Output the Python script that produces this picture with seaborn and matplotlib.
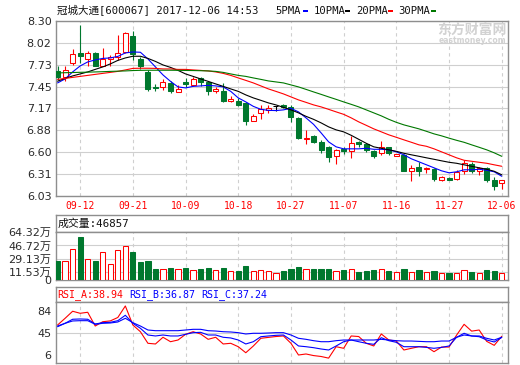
import numpy as np
import pandas as pd
import matplotlib
matplotlib.use("Agg")
import matplotlib.pyplot as plt
from matplotlib.patches import Rectangle
import seaborn as sns

# ---------------- data ----------------
dates = ['09-07', '09-08', '09-11', '09-12', '09-13', '09-14', '09-15', '09-18', '09-19', '09-20',
         '09-21', '09-22', '09-25', '09-26', '09-27', '09-28', '09-29', '10-09', '10-10', '10-11',
         '10-12', '10-13', '10-16', '10-17', '10-18', '10-19', '10-20', '10-23', '10-24', '10-25',
         '10-26', '10-27', '10-30', '10-31', '11-01', '11-02', '11-03', '11-06', '11-07', '11-08',
         '11-09', '11-10', '11-13', '11-14', '11-15', '11-16', '11-17', '11-20', '11-21', '11-22',
         '11-23', '11-24', '11-27', '11-28', '11-29', '11-30', '12-01', '12-04', '12-05', '12-06']

opens = [7.650, 7.572, 7.754, 7.881, 7.810, 7.881, 7.719, 7.810, 7.832, 7.894,
         8.109, 7.803, 7.634, 7.440, 7.446, 7.498, 7.377, 7.515, 7.472, 7.559,
         7.507, 7.398, 7.398, 7.264, 7.264, 7.234, 7.008, 7.104, 7.147, 7.203,
         7.212, 7.190, 7.047, 6.766, 6.809, 6.727, 6.662, 6.553, 6.636, 6.618,
         6.735, 6.705, 6.618, 6.584, 6.662, 6.549, 6.562, 6.358, 6.402, 6.380,
         6.376, 6.228, 6.263, 6.246, 6.345, 6.445, 6.354, 6.393, 6.237, 6.194]
highs = [7.715, 7.720, 7.936, 8.252, 7.918, 7.897, 7.953, 7.866, 8.122, 8.161,
         8.178, 7.829, 7.667, 7.490, 7.550, 7.524, 7.472, 7.559, 7.580, 7.580,
         7.515, 7.450, 7.494, 7.329, 7.300, 7.255, 7.095, 7.212, 7.212, 7.203,
         7.218, 7.212, 7.056, 6.887, 6.815, 6.757, 6.672, 6.636, 6.662, 6.809,
         6.748, 6.722, 6.627, 6.744, 6.670, 6.575, 6.575, 6.432, 6.475, 6.410,
         6.389, 6.289, 6.270, 6.367, 6.497, 6.471, 6.410, 6.410, 6.272, 6.237]
lows = [7.540, 7.520, 7.736, 7.758, 7.712, 7.712, 7.712, 7.723, 7.800, 7.888,
        7.797, 7.680, 7.394, 7.387, 7.407, 7.364, 7.374, 7.450, 7.459, 7.463,
        7.342, 7.372, 7.255, 7.247, 7.199, 6.952, 7.008, 7.030, 7.104, 7.138,
        7.173, 6.995, 6.770, 6.701, 6.718, 6.590, 6.475, 6.445, 6.575, 6.519,
        6.670, 6.605, 6.519, 6.562, 6.562, 6.549, 6.354, 6.215, 6.289, 6.324,
        6.224, 6.215, 6.233, 6.237, 6.315, 6.328, 6.302, 6.211, 6.107, 6.120]
closes = [7.576, 7.663, 7.871, 7.842, 7.892, 7.723, 7.810, 7.836, 7.888, 8.154,
          7.875, 7.719, 7.420, 7.430, 7.511, 7.387, 7.416, 7.481, 7.546, 7.507,
          7.398, 7.416, 7.268, 7.286, 7.212, 7.008, 7.069, 7.160, 7.169, 7.203,
          7.182, 7.060, 6.779, 6.779, 6.727, 6.627, 6.540, 6.627, 6.618, 6.714,
          6.705, 6.627, 6.553, 6.662, 6.584, 6.571, 6.358, 6.389, 6.358, 6.397,
          6.246, 6.272, 6.237, 6.341, 6.462, 6.354, 6.393, 6.233, 6.150, 6.228]

ma5 = [7.498, 7.550, 7.641, 7.719, 7.771, 7.797, 7.817, 7.823, 7.843, 7.888,
       7.901, 7.897, 7.810, 7.706, 7.602, 7.518, 7.446, 7.433, 7.453, 7.459,
       7.466, 7.459, 7.446, 7.388, 7.303, 7.251, 7.193, 7.154, 7.141, 7.138,
       7.147, 7.167, 7.121, 7.043, 6.959, 6.848, 6.731, 6.666, 6.640, 6.640,
       6.640, 6.647, 6.634, 6.634, 6.627, 6.601, 6.562, 6.510, 6.471, 6.432,
       6.393, 6.354, 6.328, 6.341, 6.367, 6.367, 6.374, 6.361, 6.341, 6.283]
ma10 = [7.520, 7.557, 7.589, 7.615, 7.641, 7.674, 7.706, 7.745, 7.791, 7.823,
        7.845, 7.845, 7.817, 7.778, 7.732, 7.700, 7.661, 7.615, 7.583, 7.550,
        7.518, 7.485, 7.453, 7.420, 7.388, 7.342, 7.303, 7.271, 7.238, 7.212,
        7.180, 7.147, 7.108, 7.063, 7.024, 6.978, 6.926, 6.887, 6.861, 6.816,
        6.764, 6.712, 6.666, 6.647, 6.627, 6.608, 6.582, 6.562, 6.543, 6.523,
        6.504, 6.484, 6.465, 6.452, 6.432, 6.413, 6.393, 6.374, 6.348, 6.302]
ma20 = [7.544, 7.557, 7.570, 7.583, 7.596, 7.609, 7.622, 7.635, 7.648, 7.667,
        7.687, 7.689, 7.689, 7.687, 7.680, 7.680, 7.674, 7.674, 7.667, 7.661,
        7.654, 7.641, 7.622, 7.596, 7.563, 7.531, 7.498, 7.459, 7.420, 7.388,
        7.355, 7.316, 7.277, 7.245, 7.212, 7.186, 7.154, 7.121, 7.089, 7.043,
        6.991, 6.946, 6.900, 6.861, 6.822, 6.790, 6.757, 6.725, 6.692, 6.673,
        6.640, 6.601, 6.562, 6.523, 6.491, 6.478, 6.465, 6.452, 6.432, 6.413]
ma30 = [7.628, 7.631, 7.633, 7.636, 7.638, 7.641, 7.644, 7.648, 7.651, 7.654,
        7.659, 7.662, 7.663, 7.663, 7.663, 7.663, 7.662, 7.660, 7.659, 7.657,
        7.654, 7.648, 7.635, 7.615, 7.596, 7.583, 7.563, 7.544, 7.524, 7.511,
        7.498, 7.472, 7.446, 7.414, 7.381, 7.349, 7.316, 7.284, 7.251, 7.219,
        7.186, 7.147, 7.108, 7.069, 7.024, 6.985, 6.952, 6.926, 6.900, 6.868,
        6.835, 6.809, 6.779, 6.751, 6.725, 6.692, 6.660, 6.627, 6.588, 6.543]

volume_wan = [25.6, 25.6, 41.4, 58.0, 27.9, 25.6, 37.3, 22.5, 40.5, 45.8,
              37.8, 24.3, 25.6, 14.8, 14.8, 16.2, 14.8, 16.2, 13.5, 14.8,
              16.2, 13.5, 16.2, 12.6, 12.6, 18.9, 12.6, 13.5, 12.1, 10.4,
              12.6, 14.8, 18.0, 15.7, 14.8, 14.8, 14.8, 12.1, 13.5, 15.7,
              11.2, 12.6, 13.5, 14.8, 12.6, 10.8, 14.8, 11.2, 13.5, 11.2,
              12.6, 9.9, 9.9, 9.9, 13.5, 10.8, 9.9, 13.5, 12.6, 9.9]

rsi_a = [58.8, 70.6, 83.0, 79.4, 81.2, 57.0, 64.6, 66.0, 72.0, 92.3,
         58.8, 47.0, 26.6, 25.4, 37.2, 29.4, 32.4, 42.4, 47.0, 43.0,
         33.6, 37.2, 25.4, 26.6, 20.6, 10.0, 21.8, 35.4, 37.0, 38.5,
         39.5, 26.6, 6.0, 7.8, 5.0, 3.4, 0.5, 20.6, 17.8, 39.5,
         38.5, 26.6, 21.9, 43.0, 32.4, 30.6, 14.8, 17.8, 20.6, 20.6,
         11.8, 20.0, 20.0, 41.0, 60.0, 48.0, 50.0, 30.0, 23.0, 38.94]
rsi_b = [55.8, 61.8, 68.9, 69.4, 68.9, 60.6, 62.9, 63.5, 66.4, 75.9,
         61.8, 53.0, 41.2, 39.5, 41.2, 39.5, 39.5, 42.4, 45.3, 45.9,
         41.2, 41.2, 37.2, 36.0, 32.4, 25.4, 29.4, 38.2, 39.5, 40.6,
         41.2, 32.4, 21.9, 20.6, 18.9, 16.6, 14.8, 21.9, 29.4, 32.4,
         29.4, 26.6, 24.8, 36.5, 31.2, 28.3, 20.6, 20.6, 20.6, 19.4,
         17.8, 19.4, 21.9, 37.2, 44.2, 39.5, 38.2, 32.4, 28.9, 36.87]
rsi_c = [57.0, 61.8, 65.9, 66.4, 66.4, 60.0, 61.8, 62.3, 64.1, 70.6,
         62.9, 57.0, 50.0, 48.8, 48.8, 48.8, 48.8, 50.0, 51.2, 51.2,
         48.8, 48.2, 47.0, 46.5, 45.3, 43.0, 44.2, 44.2, 44.7, 45.3,
         45.3, 41.2, 35.4, 33.6, 31.2, 29.4, 29.4, 31.2, 32.4, 32.4,
         32.4, 32.4, 32.4, 33.6, 32.4, 31.2, 30.6, 30.6, 30.0, 29.4,
         29.4, 30.6, 30.6, 37.2, 41.2, 39.5, 39.5, 35.4, 32.4, 37.24]

date_ticks = ['09-12', '09-21', '10-09', '10-18', '10-27', '11-07', '11-16', '11-27', '12-06']
price_ticks = [8.30, 8.02, 7.73, 7.45, 7.17, 6.88, 6.60, 6.31, 6.03]
price_tick_labels = ['8.30', '8.02', '7.73', '7.45', '7.17', '6.88', '6.60', '6.31', '6.03']
vol_ticks = [0, 11.53, 29.13, 46.72, 64.32]
vol_tick_labels = ['0', '11.53万', '29.13万', '46.72万', '64.32万']
rsi_ticks = [6, 45, 84]
rsi_tick_labels = ['6', '45', '84']
title_text = '冠城大通[600067] 2017-12-06 14:53'
ma_labels = ['5PMA', '10PMA', '20PMA', '30PMA']
volume_header = '成交量:46857'
rsi_labels = ['RSI_A', 'RSI_B', 'RSI_C']
rsi_last = ['38.94', '36.87', '37.24']

# ---------------- style ----------------
sns.set_style('white')
plt.rcParams['font.family'] = ['DejaVu Sans', 'Noto Sans CJK SC']
MONO = ['DejaVu Sans Mono', 'Noto Sans CJK SC']
RED = '#ff0000'
GREEN = '#00782e'
BLUE = '#0000ff'
MA_COLORS = ['#0000ff', '#000000', '#ff0000', '#007800']
RSI_COLORS = ['#ff0000', '#0000ff', '#0000ff']
GRID = '#cfcfcf'
BORDER = '#8e8e8e'
LABEL = '#2a2a2a'

W, H = 520, 365
fig = plt.figure(figsize=(W / 100, H / 100), dpi=100)
fig.patch.set_facecolor('white')


def fr(x0, y_top, x1, y_bot):
    return [x0 / W, 1 - y_bot / H, (x1 - x0) / W, (y_bot - y_top) / H]


X0, X1 = 55.7, 508.0
ax_p = fig.add_axes(fr(X0, 21.3, X1, 195.7))
ax_vh = fig.add_axes(fr(X0, 215.0, X1, 232.3))
ax_v = fig.add_axes(fr(X0, 232.3, X1, 280.3))
ax_rh = fig.add_axes(fr(X0, 287.3, X1, 301.7))
ax_r = fig.add_axes(fr(X0, 301.7, X1, 363.3))

idx = np.arange(len(dates))
tick_idx = [dates.index(d) for d in date_ticks]
XLIM = (-0.25, 59.83)


def frame(ax):
    ax.set_facecolor('white')
    for s in ax.spines.values():
        s.set_visible(True)
        s.set_color(BORDER)
        s.set_linewidth(1.0)
    ax.tick_params(length=0, pad=3, labelsize=8, colors=LABEL)
    ax.set_xlim(*XLIM)


for ax in (ax_p, ax_vh, ax_v, ax_rh, ax_r):
    frame(ax)
for ax in (ax_vh, ax_rh):
    ax.set_xticks([])
    ax.set_yticks([])

# ---------------- price panel ----------------
o, h, l, c = map(np.array, (opens, highs, lows, closes))
cand_col = np.where(c > o, RED, np.where(c < o, GREEN, '#000000'))
face_col = np.where(c > o, 'white', cand_col)
ax_p.vlines(idx, l, h, colors=list(cand_col), lw=0.8, zorder=3)
ax_p.bar(idx, np.abs(c - o), bottom=np.minimum(o, c), width=0.66,
         color=list(face_col), edgecolor=list(cand_col), linewidth=0.75, zorder=4)

ma_df = pd.DataFrame({
    'idx': np.tile(idx, 4),
    'value': np.concatenate([ma5, ma10, ma20, ma30]),
    'line': np.repeat(ma_labels, len(idx)),
})
sns.lineplot(data=ma_df, x='idx', y='value', hue='line',
             palette=dict(zip(ma_labels, MA_COLORS)), legend=False,
             linewidth=0.8, ax=ax_p, zorder=5)
ax_p.set_xlabel('')
ax_p.set_ylabel('')
ax_p.set_xlim(*XLIM)
ax_p.set_ylim(6.03, 8.30)
ax_p.set_yticks(price_ticks, price_tick_labels)
ax_p.set_xticks(tick_idx, date_ticks)
ax_p.tick_params(axis='x', colors=RED, labelsize=7, pad=3.5)
for lbl in ax_p.get_xticklabels():
    lbl.set_family(MONO)
ax_p.grid(axis='y', color=GRID, lw=0.8)
ax_p.grid(axis='x', color=GRID, lw=0.8, ls=(0, (3, 3)))
ax_p.set_axisbelow(True)

# ---------------- volume panel ----------------
vcol = np.where(c >= o, RED, GREEN)
vface = np.where(c >= o, 'white', GREEN)
ax_v.bar(idx, volume_wan, width=0.7, color=list(vface), edgecolor=list(vcol),
         linewidth=0.75, zorder=3)
ax_v.set_ylim(0, 64.32)
ax_v.set_yticks(vol_ticks, vol_tick_labels)
ax_v.set_xticks(tick_idx)
ax_v.tick_params(axis='x', labelbottom=False)
ax_v.grid(axis='y', color=GRID, lw=0.8)
ax_v.grid(axis='x', color=GRID, lw=0.8, ls=(0, (3, 3)))
ax_v.set_axisbelow(True)
ax_vh.text(0.004, 0.5, volume_header, transform=ax_vh.transAxes, ha='left', va='center',
           fontsize=7.8, family=MONO, color='#111111')

# ---------------- RSI panel ----------------
rsi_df = pd.DataFrame({
    'idx': np.tile(idx, 3),
    'value': np.concatenate([rsi_a, rsi_b, rsi_c]),
    'line': np.repeat(rsi_labels, len(idx)),
})
sns.lineplot(data=rsi_df, x='idx', y='value', hue='line',
             palette=dict(zip(rsi_labels, RSI_COLORS)), legend=False,
             linewidth=0.8, ax=ax_r, zorder=4)
ax_r.set_xlabel('')
ax_r.set_ylabel('')
ax_r.set_xlim(*XLIM)
ax_r.set_ylim(-8.6, 99.8)
ax_r.set_yticks(rsi_ticks, rsi_tick_labels)
ax_r.set_xticks(tick_idx)
ax_r.tick_params(axis='x', labelbottom=False)
ax_r.grid(axis='x', color=GRID, lw=0.8, ls=(0, (3, 3)))
ax_r.axhline(45, color=GRID, lw=0.8, zorder=1)
ax_r.set_axisbelow(True)

rsi_x = [57.3, 129.3, 201.0]
for lab, val, colr, xpx in zip(rsi_labels, rsi_last, RSI_COLORS, rsi_x):
    fig.text(xpx / W, 1 - 294.5 / H, f'{lab}:{val}', ha='left', va='center',
             fontsize=7.2, family=MONO, color=colr)

# ---------------- header texts ----------------
fig.text(57 / W, 1 - 10.5 / H, title_text, ha='left', va='center', fontsize=7.6,
         family=MONO, color='#111111')
legend_x = [275.0, 313.3, 355.7, 398.3]
rect_x = [302.7, 345.0, 388.3, 431.0]
for lab, colr, tx, rx in zip(ma_labels, MA_COLORS, legend_x, rect_x):
    fig.text(tx / W, 1 - 10.5 / H, lab, ha='left', va='center', fontsize=7.6,
             family=MONO, color='#111111')
    fig.patches.append(Rectangle((rx / W, 1 - 12.0 / H), 5 / W, 2.2 / H,
                                 transform=fig.transFigure, facecolor=colr,
                                 edgecolor='none'))

# watermark
fig.text(472 / W, 1 - 29.5 / H, '东方财富网', ha='center', va='center', fontsize=10,
         weight='bold', family=['Noto Sans CJK SC'], color='#d2d2d2', zorder=0)
fig.text(472 / W, 1 - 40.5 / H, 'eastmoney.com', ha='center', va='center', fontsize=5.5,
         weight='bold', family=['DejaVu Sans'], color='#d2d2d2', zorder=0)

fig.savefig('out.png', dpi=100, facecolor='white')
